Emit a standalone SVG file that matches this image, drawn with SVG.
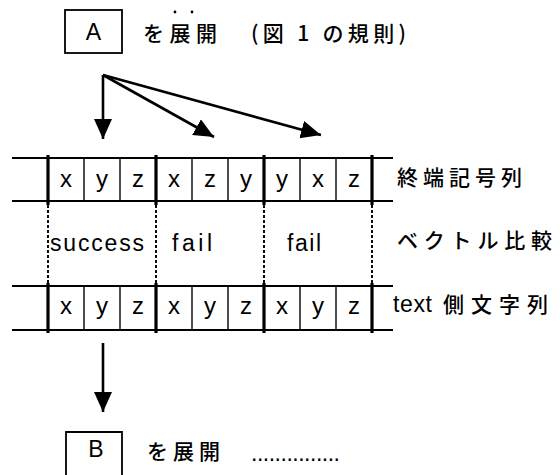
<svg xmlns="http://www.w3.org/2000/svg" width="560" height="475" viewBox="0 0 560 475">
<style>
.bg{fill:#fff}
.box{fill:none;stroke:#000;stroke-width:1.8}
.hl{stroke:#000;stroke-width:2.2}
.thick{stroke:#000;stroke-width:3.2}
.thin{stroke:#000;stroke-width:1.4}
.dash{stroke:#000;stroke-width:1.9;stroke-dasharray:3 2}
.conn{stroke:#000;stroke-width:2.6;fill:none}
.lat{font-family:"Liberation Sans",Arial,sans-serif;font-size:23px;fill:#000}
.cell{font-family:"Liberation Sans",Arial,sans-serif;font-size:24px;fill:#000;text-anchor:middle}
.jp{font-family:"Noto Sans CJK JP","Liberation Sans",sans-serif;font-size:21px;font-weight:500;fill:#000}
</style>
<defs>
<marker id="ah" markerWidth="22" markerHeight="20" refX="20" refY="9" orient="auto" markerUnits="userSpaceOnUse">
<path d="M0,0 L20,9 L0,18 Z" fill="#000"/>
</marker>
</defs>
<rect class="bg" x="0" y="0" width="560" height="475"/>

<g id="nodeA">
<rect class="box" x="65" y="10" width="57" height="43"/>
<text class="lat" x="93.5" y="40" text-anchor="middle">A</text>
<text class="jp" x="143" y="41" textLength="74" lengthAdjust="spacing">を展開</text>
<circle cx="175" cy="12" r="1.4" fill="#000"/>
<circle cx="192" cy="12" r="1.4" fill="#000"/>
<text class="jp" x="251" y="41" textLength="155" lengthAdjust="spacing">(図 1 の規則)</text>
</g>

<g id="connectors">
<line class="conn" x1="103" y1="75" x2="103" y2="139" marker-end="url(#ah)"/>
<line class="conn" x1="103" y1="75" x2="214" y2="137" marker-end="url(#ah)"/>
<line class="conn" x1="103" y1="75" x2="321" y2="135" marker-end="url(#ah)"/>
<line class="conn" x1="103" y1="343" x2="103" y2="412" marker-end="url(#ah)"/>
</g>

<g id="terminalRow">
<line class="hl" x1="12" y1="158" x2="393" y2="158"/>
<line class="hl" x1="12" y1="201" x2="393" y2="201"/>
<line class="thick" x1="48" y1="155" x2="48" y2="205"/>
<line class="thick" x1="156" y1="155" x2="156" y2="205"/>
<line class="thick" x1="264" y1="155" x2="264" y2="205"/>
<line class="thick" x1="372" y1="155" x2="372" y2="205"/>
<line class="thin" x1="84" y1="158" x2="84" y2="201"/>
<line class="thin" x1="120" y1="158" x2="120" y2="201"/>
<line class="thin" x1="192" y1="158" x2="192" y2="201"/>
<line class="thin" x1="228" y1="158" x2="228" y2="201"/>
<line class="thin" x1="300" y1="158" x2="300" y2="201"/>
<line class="thin" x1="336" y1="158" x2="336" y2="201"/>
<text class="cell" x="66" y="187">x</text>
<text class="cell" x="102" y="187">y</text>
<text class="cell" x="138" y="187">z</text>
<text class="cell" x="174" y="187">x</text>
<text class="cell" x="210" y="187">z</text>
<text class="cell" x="246" y="187">y</text>
<text class="cell" x="282" y="187">y</text>
<text class="cell" x="318" y="187">x</text>
<text class="cell" x="354" y="187">z</text>
<text class="jp" x="397" y="185" textLength="125" lengthAdjust="spacing">終端記号列</text>
</g>

<g id="compareRow">
<line class="dash" x1="48" y1="205" x2="48" y2="283"/>
<line class="dash" x1="156" y1="205" x2="156" y2="283"/>
<line class="dash" x1="264" y1="205" x2="264" y2="283"/>
<line class="dash" x1="372" y1="205" x2="372" y2="283"/>
<text class="lat" x="50" y="251" textLength="94" lengthAdjust="spacing">success</text>
<text class="lat" x="172" y="251" textLength="40" lengthAdjust="spacing">fail</text>
<text class="lat" x="287" y="251" textLength="34" lengthAdjust="spacing">fail</text>
<text class="jp" x="397" y="248" textLength="155" lengthAdjust="spacing">ベクトル比較</text>
</g>

<g id="textRow">
<line class="hl" x1="12" y1="286" x2="393" y2="286"/>
<line class="hl" x1="12" y1="330" x2="393" y2="330"/>
<line class="thick" x1="48" y1="283" x2="48" y2="333"/>
<line class="thick" x1="156" y1="283" x2="156" y2="333"/>
<line class="thick" x1="264" y1="283" x2="264" y2="333"/>
<line class="thick" x1="372" y1="283" x2="372" y2="333"/>
<line class="thin" x1="84" y1="286" x2="84" y2="330"/>
<line class="thin" x1="120" y1="286" x2="120" y2="330"/>
<line class="thin" x1="192" y1="286" x2="192" y2="330"/>
<line class="thin" x1="228" y1="286" x2="228" y2="330"/>
<line class="thin" x1="300" y1="286" x2="300" y2="330"/>
<line class="thin" x1="336" y1="286" x2="336" y2="330"/>
<text class="cell" x="66" y="314">x</text>
<text class="cell" x="102" y="314">y</text>
<text class="cell" x="138" y="314">z</text>
<text class="cell" x="174" y="314">x</text>
<text class="cell" x="210" y="314">y</text>
<text class="cell" x="246" y="314">z</text>
<text class="cell" x="282" y="314">x</text>
<text class="cell" x="318" y="314">y</text>
<text class="cell" x="354" y="314">z</text>
<text class="lat" x="393" y="312" textLength="39" lengthAdjust="spacing">text</text>
<text class="jp" x="443" y="312" textLength="105" lengthAdjust="spacing">側文字列</text>
</g>

<g id="nodeB">
<path class="box" d="M66,476 L66,432 L122,432 L122,476"/>
<text class="lat" x="96" y="457" text-anchor="middle">B</text>
<text class="jp" x="147" y="459" textLength="73" lengthAdjust="spacing">を展開</text>
<text class="lat" x="251" y="461" font-size="12" textLength="89" lengthAdjust="spacing">...............</text>
</g>
</svg>
